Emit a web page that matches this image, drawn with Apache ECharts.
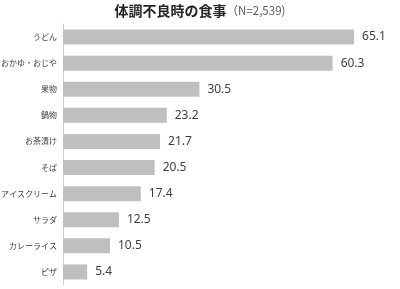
<!DOCTYPE html>
<html><head><meta charset="utf-8">
<script src="https://cdn.jsdelivr.net/npm/echarts@6/dist/echarts.min.js"></script>
<style>html,body{margin:0;padding:0;background:#fff}#c{width:400px;height:289px}</style>
</head><body><div id="c"></div>
<script>
const categories = ["うどん","おかゆ・おじや","果物","鍋物","お茶漬け","そば","アイスクリーム","サラダ","カレーライス","ピザ"];
const values = [65.1,60.3,30.5,23.2,21.7,20.5,17.4,12.5,10.5,5.4];
const titleMain = "体調不良時の食事";
const titleSub = "（N=2,539)";

const chart = echarts.init(document.getElementById('c'), null, {renderer:'canvas'});
chart.setOption({
  animation:false,
  title:{
    text:'{a|'+titleMain+'}{b|'+titleSub+'}',
    left:'center', top:-1,
    textStyle:{rich:{
      a:{fontFamily:'Noto Sans CJK JP',fontSize:14,fontWeight:'bold',color:'#262626'},
      b:{fontFamily:'Noto Sans CJK JP',fontSize:11.5,fontWeight:'normal',color:'#595959'}
    }}
  },
  grid:{left:63,top:24,width:313,bottom:4,containLabel:false,outerBoundsMode:'none'},
  xAxis:{type:'value',min:0,max:70,show:false},
  yAxis:{type:'category',data:categories,inverse:true,
    axisLine:{show:true,lineStyle:{color:'#d0d0d0',width:1}},
    axisTick:{show:false},
    axisLabel:{fontFamily:'Noto Sans CJK JP',fontSize:8,color:'#404040',margin:6}
  },
  series:[{type:'bar',data:values,barWidth:15,
    itemStyle:{color:'#bfbfbf'},
    label:{show:true,position:'right',distance:8,fontFamily:'Noto Sans',fontSize:12,color:'#404040',
      formatter:p=>p.value.toFixed(1)}
  }]
});
</script></body></html>
